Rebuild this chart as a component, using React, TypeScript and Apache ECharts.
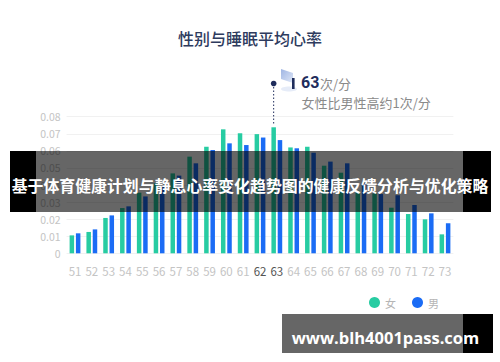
import React, { useEffect, useRef } from "react";
import * as echarts from "echarts";

const categories = ["51","52","53","54","55","56","57","58","59","60","61","62","63","64","65","66","67","68","69","70","71","72","73"];
const femaleValues = [0.0105,0.0125,0.0207,0.0265,0.0355,0.041,0.0468,0.0566,0.0624,0.0726,0.0703,0.0698,0.0738,0.062,0.0624,0.0513,0.0472,0.0366,0.035,0.0267,0.023,0.0199,0.0111];
const maleValues = [0.0117,0.014,0.0222,0.0275,0.0333,0.039,0.0455,0.0527,0.0605,0.0644,0.0634,0.0678,0.0663,0.0615,0.0589,0.0537,0.0527,0.041,0.0347,0.034,0.0283,0.0234,0.0176];
const highlighted = ["62", "63"];
const seriesNames = ["女", "男"];
const titleText = "性别与睡眠平均心率";
const noteValue = "63";
const noteUnit = "次/分";
const noteText = "女性比男性高约1次/分";
const bannerText = "基于体育健康计划与静息心率变化趋势图的健康反馈分析与优化策略";
const watermarkText = "www.blh4001pass.com";

const TEAL = "#27cca2";
const BLUE = "#1b6cf5";
const NAVY = "#1f2d5c";
const FONT = "'Noto Sans CJK SC', 'Noto Sans', sans-serif";

export default function App() {
  const ref = useRef<HTMLDivElement>(null);
  useEffect(() => {
    if (!ref.current) return;
    const chart = echarts.init(ref.current, null, { renderer: "svg" });
    const barW = 4.5;
    const option: any = {
      animation: false,
      backgroundColor: "#ffffff",
      textStyle: { fontFamily: FONT },
      title: {
        text: titleText,
        left: "center",
        top: 25,
        textStyle: { color: "#2e3b5e", fontSize: 16, fontWeight: 500, fontFamily: FONT },
      },
      legend: {
        data: seriesNames,
        right: 56,
        top: 292,
        icon: "circle",
        itemWidth: 11,
        itemHeight: 11,
        itemGap: 16,
        textStyle: { color: "#b5b5b5", fontSize: 11, fontFamily: FONT },
      },
      grid: { left: 66.6, right: 46.6, top: 116.7, bottom: 108.7, containLabel: false },
      xAxis: {
        type: "category",
        data: categories,
        axisLine: { show: false },
        axisTick: { show: false },
        axisLabel: {
          margin: 12,
          fontSize: 11.5,
          fontFamily: FONT,
          color: (v: string) => (highlighted.indexOf(v) >= 0 ? "#555555" : "#c4c4c4"),
        },
      },
      yAxis: {
        type: "value",
        min: 0,
        max: 0.08,
        interval: 0.01,
        axisLine: { show: false },
        axisTick: { show: false },
        splitLine: { lineStyle: { color: "#f1f1f1", width: 1 } },
        axisLabel: { color: "#c4c4c4", fontSize: 10.5, margin: 6, fontFamily: FONT },
      },
      series: [
        {
          name: seriesNames[0],
          type: "bar",
          data: femaleValues,
          barWidth: barW,
          barGap: "40%",
          itemStyle: { color: TEAL },
        },
        {
          name: seriesNames[1],
          type: "bar",
          data: maleValues,
          barWidth: barW,
          itemStyle: { color: BLUE },
        },
      ],
    };
    chart.setOption(option);

    const idx = categories.indexOf(noteValue);
    const top = chart.convertToPixel({ gridIndex: 0 }, [idx, femaleValues[idx]]) as number[];
    const lx = top[0] - (barW + barW * 0.4) / 2;
    const dotY = 83.5;

    chart.setOption({
      graphic: [
        {
          type: "line",
          shape: { x1: lx, y1: dotY, x2: lx, y2: top[1] - 2 },
          style: { stroke: NAVY, lineWidth: 1, lineDash: [1.5, 2] },
          z: 10,
        },
        { type: "circle", shape: { cx: lx, cy: dotY, r: 2.8 }, style: { fill: NAVY }, z: 11 },
        // flag icon
        { type: "ellipse", shape: { cx: 289, cy: 89, rx: 8, ry: 2.5 }, style: { fill: "#e6ecf8" }, z: 10 },
        {
          type: "polygon",
          shape: { points: [[281, 69], [293, 73], [293, 83], [281, 79]] },
          style: {
            fill: new echarts.graphic.LinearGradient(0, 0, 1, 1, [
              { offset: 0, color: "#9fb5e3" },
              { offset: 1, color: "#dfe7f7" },
            ]),
          },
          z: 10,
        },
        { type: "rect", shape: { x: 292, y: 78, width: 2.6, height: 11 }, style: { fill: NAVY }, z: 11 },
        {
          type: "text",
          x: 301,
          y: 82.5,
          style: {
            text: noteValue,
            fill: NAVY,
            font: `bold 16px Roboto, ${FONT}`,
            verticalAlign: "middle",
          },
          z: 11,
        },
        {
          type: "text",
          x: 320,
          y: 83,
          style: { text: noteUnit, fill: "#8a8a8a", font: `13px ${FONT}`, verticalAlign: "middle" },
          z: 11,
        },
        {
          type: "text",
          x: 301.5,
          y: 102.5,
          style: { text: noteText, fill: "#8a8a8a", font: `13px ${FONT}`, verticalAlign: "middle" },
          z: 11,
        },
        // banner
        { type: "rect", shape: { x: 10, y: 151, width: 26, height: 61 }, style: { fill: "#000000" }, z: 50 },
        { type: "rect", shape: { x: 36, y: 151, width: 427, height: 61 }, style: { fill: "rgba(0,0,0,0.6)" }, z: 50 },
        { type: "rect", shape: { x: 463, y: 151, width: 28, height: 61 }, style: { fill: "#000000" }, z: 50 },
        {
          type: "text",
          x: 250,
          y: 185.5,
          style: {
            text: bannerText,
            fill: "#ffffff",
            font: `bold 15.9px ${FONT}`,
            align: "center",
            verticalAlign: "middle",
          },
          z: 51,
        },
        // watermark
        { type: "rect", shape: { x: 282, y: 314, width: 181, height: 39 }, style: { fill: "rgba(0,0,0,0.6)" }, z: 50 },
        { type: "rect", shape: { x: 463, y: 314, width: 30, height: 39 }, style: { fill: "#000000" }, z: 50 },
        {
          type: "text",
          x: 385.5,
          y: 337,
          style: {
            text: watermarkText,
            fill: "#ffffff",
            font: `bold 16.5px 'Open Sans', ${FONT}`,
            align: "center",
            verticalAlign: "middle",
          },
          z: 51,
        },
      ],
    });

    return () => chart.dispose();
  }, []);
  return (
    <div
      ref={ref}
      style={{ position: "fixed", left: 0, top: 0, width: 500, height: 362 }}
    />
  );
}
